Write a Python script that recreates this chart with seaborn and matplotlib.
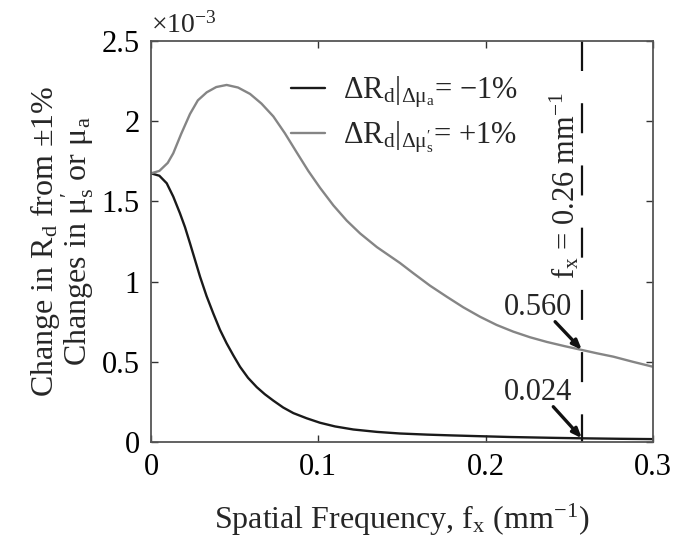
import matplotlib
matplotlib.use("Agg")
import matplotlib.pyplot as plt
import seaborn as sns
import pandas as pd

# ---- data (values in units of 1e-3) ----
freq_mua = [0.0, 0.005, 0.0094, 0.0133, 0.0173, 0.0203, 0.0233, 0.0263, 0.0293, 0.0332,
            0.0372, 0.0412, 0.0452, 0.0492, 0.0532, 0.058, 0.0632, 0.068, 0.0731, 0.079,
            0.0851, 0.093, 0.101, 0.11, 0.1209, 0.135, 0.1488, 0.165, 0.18, 0.197,
            0.215, 0.24, 0.2574, 0.28, 0.30]
d_mua = [1.675, 1.66, 1.613, 1.53, 1.426, 1.34, 1.239, 1.135, 1.031, 0.91,
         0.802, 0.70, 0.615, 0.54, 0.469, 0.40, 0.342, 0.298, 0.258, 0.215,
         0.18, 0.148, 0.12, 0.097, 0.078, 0.063, 0.053, 0.046, 0.041, 0.036,
         0.031, 0.026, 0.023, 0.020, 0.018]
freq_mus = [0.0, 0.005, 0.01, 0.0133, 0.018, 0.0233, 0.028, 0.0333, 0.039, 0.0452,
            0.052, 0.0592, 0.066, 0.0731, 0.08, 0.0871, 0.094, 0.101, 0.109, 0.117,
            0.125, 0.135, 0.1488, 0.1568, 0.1667, 0.1767, 0.1866, 0.1966, 0.2065, 0.2165,
            0.2265, 0.2365, 0.247, 0.2574, 0.2665, 0.2763, 0.288, 0.30]
d_mus = [1.675, 1.69, 1.74, 1.80, 1.92, 2.045, 2.13, 2.18, 2.213, 2.226,
         2.21, 2.17, 2.11, 2.03, 1.925, 1.805, 1.69, 1.585, 1.475, 1.38,
         1.30, 1.215, 1.116, 1.052, 0.975, 0.906, 0.84, 0.781, 0.73, 0.688,
         0.653, 0.624, 0.598, 0.574, 0.553, 0.532, 0.50, 0.469]
labels = [r'ΔR$_\mathrm{d}|_{\Delta\mathrm{μ}_\mathrm{a}}$= −1%',
          r'ΔR$_\mathrm{d}|_{\Delta\mathrm{μ}^{\prime}_\mathrm{s}}$= +1%']
fx_mark = 0.2575
ann_vals = ["0.560", "0.024"]
ann_pts = [0.574, 0.023]

sns.set_style("ticks")
plt.rcParams['font.family'] = ['Liberation Serif', 'DejaVu Serif']
plt.rcParams['mathtext.fontset'] = 'custom'
plt.rcParams['mathtext.rm'] = 'Liberation Serif'
plt.rcParams['mathtext.it'] = 'Liberation Serif:italic'
plt.rcParams['mathtext.bf'] = 'Liberation Serif:bold'

df = pd.DataFrame({
    'f': freq_mua + freq_mus,
    'v': [v * 1e-3 for v in d_mua] + [v * 1e-3 for v in d_mus],
    's': [labels[0]] * len(freq_mua) + [labels[1]] * len(freq_mus),
})

FS = 22
fig = plt.figure(figsize=(6.89, 5.39), dpi=100)
ax = fig.add_axes([151/689, 1 - 442/539, (653-151)/689, (442-41)/539])
sns.lineplot(data=df, x='f', y='v', hue='s', palette=['#1a1a1a', '#858585'],
             linewidth=1.7, ax=ax, legend=True)

ax.set_xlim(0, 0.3)
ax.set_ylim(0, 2.5e-3)
ax.set_xticks([0, 0.1, 0.2, 0.3])
ax.set_xticklabels(['0', '0.1', '0.2', '0.3'])
ax.set_yticks([0, 0.5e-3, 1e-3, 1.5e-3, 2e-3, 2.5e-3])
ax.set_yticklabels(['0', '0.5', '1', '1.5', '2', '2.5'])
ax.text(0.0, 1.005, r'$\times$10$^{-3}$', transform=ax.transAxes, fontsize=20,
        ha='left', va='bottom')

ax.tick_params(direction='in', length=5, width=1, top=True, right=True,
               labelsize=FS, pad=8, colors='#333333', labelcolor='black')
for sp in ax.spines.values():
    sp.set_color('#555555')
    sp.set_linewidth(1.3)

ax.set_xlabel(r'Spatial Frequency, f$_\mathrm{x}$ (mm$^{−1}$)', fontsize=FS + 1, labelpad=14)
ax.set_ylabel('Change in R$_\\mathrm{d}$ from ±1%\nChanges in μ$^{\\prime}_\\mathrm{s}$ or μ$_\\mathrm{a}$',
              fontsize=FS + 1, labelpad=4, linespacing=0.9)

leg = ax.legend(loc='upper left', bbox_to_anchor=(0.225, 0.985), frameon=False,
                fontsize=FS, handlelength=1.1, handletextpad=0.6, labelspacing=0.3)

ax.plot([fx_mark, fx_mark], [2.5e-3, 0], color='#111111', linewidth=1.6,
        linestyle=(0, (13.5, 14.5)))
ax.text(0.2474, 1.60e-3, r'f$_\mathrm{x}$ = 0.26 mm$^{-1}$', rotation=90, fontsize=FS,
        ha='center', va='center')

arrow = dict(arrowstyle='-|>,head_length=0.55,head_width=0.22',
             color='#111111', lw=2.4, shrinkA=0, shrinkB=0)
ax.annotate(ann_vals[0], xy=(fx_mark, ann_pts[0] * 1e-3), xytext=(0.2313, 0.838e-3),
            fontsize=FS, ha='center', va='center')
ax.annotate('', xy=(fx_mark, ann_pts[0] * 1e-3), xytext=(0.2415, 0.75e-3),
            arrowprops=arrow)
ax.annotate(ann_vals[1], xy=(fx_mark, ann_pts[1] * 1e-3), xytext=(0.2313, 0.31e-3),
            fontsize=FS, ha='center', va='center')
ax.annotate('', xy=(fx_mark, ann_pts[1] * 1e-3), xytext=(0.2404, 0.22e-3),
            arrowprops=arrow)

fig.savefig('out.png', dpi=100)
